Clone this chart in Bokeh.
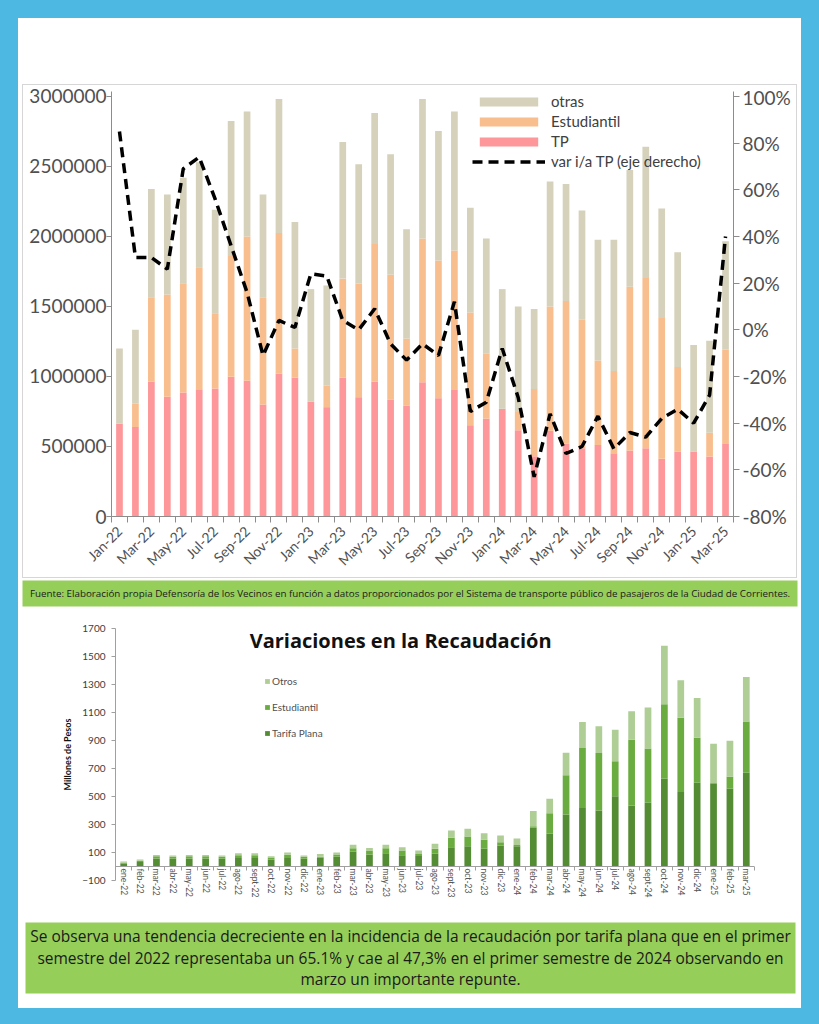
import math
from bokeh.plotting import figure
from bokeh.layouts import column, row
from bokeh.models import (Range1d, LinearAxis, FixedTicker, NumeralTickFormatter, Span,
                          PrintfTickFormatter, Legend, LegendItem, Label, ColumnDataSource)
from bokeh.embed import file_html
from bokeh.resources import INLINE

# ---------------- data: top chart (pasajeros) ----------------
months_top = ["Jan-22", "Feb-22", "Mar-22", "Apr-22", "May-22", "Jun-22", "Jul-22", "Aug-22",
              "Sep-22", "Oct-22", "Nov-22", "Dec-22", "Jan-23", "Feb-23", "Mar-23", "Apr-23",
              "May-23", "Jun-23", "Jul-23", "Aug-23", "Sep-23", "Oct-23", "Nov-23", "Dec-23",
              "Jan-24", "Feb-24", "Mar-24", "Apr-24", "May-24", "Jun-24", "Jul-24", "Aug-24",
              "Sep-24", "Oct-24", "Nov-24", "Dec-24", "Jan-25", "Feb-25", "Mar-25"]
tp = [663000, 640000, 965000, 856000, 885000, 908000, 915000, 998000, 969000, 800000,
      1021000, 993000, 821000, 781000, 993000, 852000, 965000, 833000, 793000, 958000,
      845000, 904000, 652000, 699000, 769000, 616000, 430000, 612000, 522000, 487000,
      511000, 452000, 471000, 487000, 412000, 464000, 464000, 428000, 518000]
estudiantil = [0, 165000, 600000, 730000, 781000, 873000, 537000, 862000, 1031000, 762000,
               1003000, 207000, 0, 153000, 706000, 812000, 981000, 894000, 478000, 1028000,
               983000, 995000, 805000, 463000, 0, 130000, 481000, 887000, 1017000, 918000,
               604000, 588000, 1169000, 1217000, 1005000, 604000, 0, 170000, 675000]
otras = [537000, 529000, 774000, 713000, 754000, 749000, 738000, 964000, 892000, 737000,
         957000, 904000, 803000, 716000, 976000, 851000, 936000, 861000, 781000, 995000,
         925000, 993000, 748000, 824000, 855000, 753000, 571000, 894000, 835000, 781000,
         862000, 937000, 835000, 936000, 783000, 819000, 760000, 658000, 772000]
var_tp = [85, 31, 31, 26, 69, 74, 56, 36, 16, -11, 4, 1, 24, 23, 4, 0, 9, -6, -13, -6,
          -11, 12, -35, -31, -8, -29, -63, -36, -53, -50, -37, -51, -44, -46, -38, -34,
          -40, -28, 40]
left_ticks = [0, 500000, 1000000, 1500000, 2000000, 2500000, 3000000]
right_ticks = [-80, -60, -40, -20, 0, 20, 40, 60, 80, 100]

# ---------------- data: bottom chart (recaudación, millones) ----------------
months_bot = ["ene-22", "feb-22", "mar-22", "abr-22", "may-22", "jun-22", "jul-22", "ago-22",
              "sept-22", "oct-22", "nov-22", "dic-22", "ene-23", "feb-23", "mar-23", "abr-23",
              "may-23", "jun-23", "jul-23", "ago-23", "sept-23", "oct-23", "nov-23", "dic-23",
              "ene-24", "feb-24", "mar-24", "abr-24", "may-24", "jun-24", "jul-24", "ago-24",
              "sept-24", "oct-24", "nov-24", "dic-24", "ene-25", "feb-25", "mar-25"]
tarifa_plana = [22, 33, 58, 55, 57, 57, 55, 60, 60, 50, 60, 55, 65, 70, 105, 85, 95, 80, 75, 91,
                138, 145, 126, 150, 145, 277, 234, 372, 417, 400, 501, 436, 455, 627, 532, 598,
                591, 555, 670]
estud_rec = [5, 8, 15, 14, 16, 16, 14, 20, 20, 14, 24, 14, 5, 15, 25, 30, 35, 35, 15, 35,
             67, 70, 65, 24, 8, 11, 147, 279, 429, 411, 250, 470, 387, 532, 531, 322,
             5, 86, 365]
otros_rec = [8, 9, 10, 10, 10, 10, 10, 15, 15, 10, 16, 10, 20, 15, 25, 18, 25, 23, 24, 36,
             52, 54, 47, 48, 47, 108, 103, 162, 186, 190, 226, 203, 293, 417, 267, 284,
             281, 258, 319]
bottom_ticks = [-100, 100, 300, 500, 700, 900, 1100, 1300, 1500, 1700]

caption = ("Fuente: Elaboración propia Defensoría de los Vecinos en función a datos proporcionados "
           "por el Sistema de transporte público de pasajeros de la Ciudad de Corrientes.")
conclusion = ["Se observa una tendencia decreciente en la incidencia de la recaudación por tarifa plana que en el primer",
              "semestre del 2022 representaba un 65.1% y cae al 47,3% en el primer semestre de 2024 observando en",
              "marzo un importante repunte."]

BLUE = "#4DB8E1"
C_OTRAS, C_EST, C_TP = "#D5D1BB", "#F9BE8D", "#FE979A"
G_OTROS, G_EST, G_TP = "#AECE96", "#6AAC40", "#548C34"
GREEN_BOX = "#96CE5A"

n = len(months_top)
idx = list(range(n))

# ---------------- top figure (inside a thin grey chart border) ----------------
# frame is 430px tall; 425px cover 0..3,000,000 and 5px of headroom sit above the top tick
f1 = figure(width=773, height=492, x_range=Range1d(-0.5, n - 0.5),
            y_range=Range1d(0, 3000000 * 430 / 425),
            toolbar_location=None, output_backend="svg",
            min_border_left=88, min_border_right=63, min_border_top=6, min_border_bottom=56,
            outline_line_color=None, background_fill_color="white", border_fill_color="white")
f1.grid.visible = False
f1.extra_y_ranges = {"pct": Range1d(-80, -80 + 180 * 430 / 425)}

src1 = ColumnDataSource(dict(x=idx, tp=tp, est=estudiantil, otras=otras, var=var_tp))
rs = f1.vbar_stack(["tp", "est", "otras"], x="x", width=0.42, source=src1,
                   color=[C_TP, C_EST, C_OTRAS], line_color=None)
rl = f1.line("x", "var", source=src1, y_range_name="pct", line_color="black",
             line_width=3.5, line_dash="10 6")

ax_col = "#8C8C8C"
lab_col = "#505050"
yl = f1.yaxis[0]
yl.ticker = FixedTicker(ticks=left_ticks)
yl.formatter = NumeralTickFormatter(format="0")
yl.axis_line_color = ax_col
yl.major_tick_line_color = ax_col
yl.major_tick_out = 5
yl.major_tick_in = 0
yl.minor_tick_line_color = None
yl.major_label_standoff = 0
yl.major_label_text_font = "Lato"
yl.major_label_text_font_size = "19px"
yl.major_label_text_color = lab_col

yr = LinearAxis(y_range_name="pct", ticker=FixedTicker(ticks=right_ticks),
                formatter=PrintfTickFormatter(format="%d%%"))
yr.axis_line_color = ax_col
yr.major_tick_line_color = ax_col
yr.major_tick_out = 6
yr.major_tick_in = 0
yr.minor_tick_line_color = None
yr.major_label_standoff = 3
yr.major_label_text_font = "Lato"
yr.major_label_text_font_size = "19px"
yr.major_label_text_color = lab_col
f1.add_layout(yr, "right")

xa = f1.xaxis[0]
even = idx[::2]
xa.ticker = FixedTicker(ticks=even, minor_ticks=[i - 0.5 for i in range(n + 1)])
xa.major_label_overrides = {i: months_top[i] for i in even}
xa.major_label_orientation = math.pi / 4
xa.major_tick_line_color = None
xa.minor_tick_line_color = ax_col
xa.minor_tick_out = 6
xa.minor_tick_in = 0
xa.axis_line_color = ax_col
xa.major_label_text_font = "Lato"
xa.major_label_text_font_size = "14px"
xa.major_label_text_color = lab_col
xa.major_label_standoff = 6

leg1 = Legend(items=[LegendItem(label="otras", renderers=[rs[2]]),
                     LegendItem(label="Estudiantil", renderers=[rs[1]]),
                     LegendItem(label="TP", renderers=[rs[0]]),
                     LegendItem(label="var i/a TP (eje derecho)", renderers=[rl])],
              location=(361, 346), glyph_width=73, glyph_height=11, label_height=16,
              spacing=2, padding=0, margin=0, label_standoff=6,
              border_line_color=None, background_fill_alpha=0,
              label_text_font="Lato", label_text_font_size="15px", label_text_color="#404040")
f1.add_layout(leg1)

# ---------------- caption ----------------
f2 = figure(width=783, height=30, x_range=Range1d(0, 1), y_range=Range1d(0, 1),
            toolbar_location=None, output_backend="svg", x_axis_location=None, y_axis_location=None,
            min_border=0, min_border_left=4, min_border_right=4, min_border_top=2, min_border_bottom=2,
            outline_line_color=None, background_fill_color=GREEN_BOX, border_fill_color="white")
f2.grid.visible = False
f2.add_layout(Label(x=0.5, y=0.5, text=caption, text_align="center", text_baseline="middle",
                    text_font="Open Sans", text_font_size="9.8px", text_color="#1A1A1A"))

# ---------------- bottom figure ----------------
f3 = figure(width=783, height=310, x_range=Range1d(-0.5, n - 0.5), y_range=Range1d(-100, 1700),
            toolbar_location=None, output_backend="svg",
            min_border_left=97, min_border_right=47, min_border_top=20, min_border_bottom=38,
            outline_line_color=None, background_fill_color="white", border_fill_color="white")
f3.grid.visible = False
src3 = ColumnDataSource(dict(x=idx, tp=tarifa_plana, est=estud_rec, ot=otros_rec))
rb = f3.vbar_stack(["tp", "est", "ot"], x="x", width=0.41, source=src3,
                   color=[G_TP, G_EST, G_OTROS], line_color=None)
f3.add_layout(Span(location=0, dimension="width", line_color="#A0A0A0", line_width=1))

ya3 = f3.yaxis[0]
ya3.ticker = FixedTicker(ticks=bottom_ticks)
ya3.axis_line_color = "#A0A0A0"
ya3.major_tick_line_color = "#A0A0A0"
ya3.major_tick_out = 4
ya3.major_tick_in = 0
ya3.minor_tick_line_color = None
ya3.major_label_standoff = 6
ya3.major_label_text_font = "Lato"
ya3.major_label_text_font_size = "10px"
ya3.major_label_text_color = "#404040"
ya3.axis_label = "Millones de Pesos"
ya3.axis_label_text_font = "Lato"
ya3.axis_label_text_font_style = "bold"
ya3.axis_label_text_font_size = "9px"
ya3.axis_label_text_color = "#111111"
ya3.axis_label_standoff = 6

xa3 = f3.xaxis[0]
xa3.ticker = FixedTicker(ticks=idx, minor_ticks=[i - 0.5 for i in range(n + 1)])
xa3.major_label_overrides = {i: months_bot[i] for i in idx}
xa3.major_label_orientation = "vertical"
xa3.major_tick_line_color = None
xa3.major_tick_out = 0
xa3.major_tick_in = 0
xa3.minor_tick_line_color = "#A0A0A0"
xa3.minor_tick_in = 14
xa3.minor_tick_out = -10
xa3.axis_line_color = None
xa3.major_label_text_font = "Lato"
xa3.major_label_text_font_size = "8.5px"
xa3.major_label_text_color = "#555555"
xa3.major_label_standoff = -12

leg3 = Legend(items=[LegendItem(label="Otros", renderers=[rb[2]]),
                     LegendItem(label="Estudiantil", renderers=[rb[1]]),
                     LegendItem(label="Tarifa Plana", renderers=[rb[0]])],
              location=(149, 141), glyph_width=6, glyph_height=6, label_height=12,
              spacing=14, padding=0, margin=0, label_standoff=2,
              border_line_color=None, background_fill_alpha=0,
              label_text_font="Lato", label_text_font_size="10px", label_text_color="#505050")
f3.add_layout(leg3)
f3.add_layout(Label(x=16.9, y=1614, text="Variaciones en la Recaudación", text_align="center",
                    text_baseline="middle", text_font="Open Sans", text_font_style="bold",
                    text_font_size="20px", text_color="#111111"))

# ---------------- conclusion box ----------------
f4 = figure(width=783, height=90, x_range=Range1d(0, 1), y_range=Range1d(0, 71),
            toolbar_location=None, output_backend="svg", x_axis_location=None, y_axis_location=None,
            min_border=0, min_border_left=7, min_border_right=6, min_border_top=4, min_border_bottom=15,
            outline_line_color=None, background_fill_color=GREEN_BOX, border_fill_color="white")
f4.grid.visible = False
for ly, t in zip([58, 36, 15], conclusion):
    f4.add_layout(Label(x=0.5, y=ly, text=t, text_align="center", text_baseline="middle",
                        text_font="Open Sans", text_font_size="15.5px", text_color="#1A1A1A"))

WHITE = {"background-color": "white"}
top_block = row(row(f1, styles={"border": "1px solid #D6D6D6", "background-color": "white"}),
                styles={"padding": "66px 4px 0px 4px", "background-color": "white"})
root = column(top_block, row(f2, styles=WHITE), row(f3, styles=WHITE), row(f4, styles=WHITE),
              spacing=0, styles={"background-color": BLUE, "padding": "18px 18px 16px 18px"})

open("out.html", "w").write(file_html(root, INLINE))
